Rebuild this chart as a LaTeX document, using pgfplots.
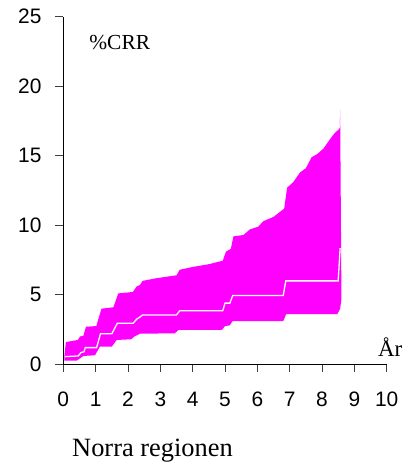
\documentclass[border=0pt]{standalone}
\usepackage{fontspec}
\setmainfont{Liberation Serif}
\setsansfont{Liberation Sans}
\usepackage{pgfplots}
\pgfplotsset{compat=1.18}
\definecolor{bandmag}{RGB}{255,0,255}
\begin{document}
\begin{tikzpicture}[x=1bp,y=1bp]
\path[use as bounding box] (-63.3bp,-100.7bp) rectangle (350.7bp,364.3bp);
\begin{axis}[
  at={(0,0)}, anchor=south west,
  scale only axis, width=323.4bp, height=347.6bp,
  xmin=0, xmax=10, ymin=0, ymax=25,
  axis x line=bottom, axis y line=left,
  axis line style={-, line width=0.8bp, black},
  xtick={0,1,...,10}, ytick={0,5,10,15,20,25},
  tick align=outside, major tick length=8bp,
  tick style={line width=0.8bp, black!75},
  /pgf/number format/assume math mode=true,
  tick label style={font=\fontsize{21}{21}\sffamily},
  xticklabel style={anchor=north, inner sep=0pt, yshift=-19.4bp},
  yticklabel style={anchor=east, inner sep=0pt, xshift=-13.6bp},
  clip=false,
]
\addplot[fill=bandmag, draw=none] coordinates {
(0.03,0.5) (0.08,1.6) (0.45,1.75) (0.52,2.0) (0.62,2.05) (0.7,2.7) (1.02,2.75)
(1.18,4.0) (1.55,4.1) (1.7,5.1) (2.15,5.2) (2.27,5.6) (2.37,5.7) (2.45,6.0)
(2.9,6.2) (3.2,6.3) (3.5,6.4) (3.6,6.8) (4.0,7.0) (4.5,7.2) (4.93,7.45)
(5.03,8.1) (5.18,8.3) (5.26,9.2) (5.57,9.3) (5.77,9.7) (6.03,9.9) (6.19,10.3)
(6.5,10.6) (6.83,11.2) (6.92,12.7) (7.11,13.1) (7.32,13.8) (7.5,14.1)
(7.68,14.9) (7.84,15.1) (8.04,15.5) (8.25,16.2) (8.38,16.6) (8.52,16.9)
(8.55,17.0) (8.56,18.3) (8.59,8.5) (8.6,4.7)
(8.56,4.0) (8.47,3.6) (6.89,3.6) (6.8,3.1) (5.23,3.1) (5.15,2.8) (5.0,2.75)
(4.9,2.47) (3.56,2.47) (3.45,2.23) (2.37,2.2) (2.2,2.0) (2.1,1.8) (1.65,1.75)
(1.5,1.27) (1.13,1.27) (0.98,0.65) (0.62,0.6) (0.52,0.43) (0.41,0.26) (0.03,0.26)
} -- cycle;
\addplot[white, line width=1.3bp] coordinates {
(0.05,0.55) (0.46,0.6) (0.55,0.85) (0.64,0.9) (0.68,1.2) (1.03,1.2) (1.15,2.2)
(1.5,2.2) (1.67,2.95) (2.16,2.95) (2.27,3.25) (2.37,3.4) (2.45,3.55) (3.5,3.55)
(3.6,3.85) (4.93,3.85) (5.0,4.4) (5.15,4.4) (5.24,4.95) (6.8,4.95) (6.88,6.0)
(8.5,6.0) (8.56,8.35)
};
\node[anchor=base west, inner sep=0pt, font=\fontsize{21.5}{21.5}\selectfont] at (axis cs:0.80,22.66) {\%CRR};
\node[anchor=base west, inner sep=0pt, font=\fontsize{23}{23}\selectfont] at (axis cs:9.73,0.55) {År};
\node[anchor=base west, inner sep=0pt, font=\fontsize{26.5}{26.5}\selectfont] at (axis cs:0.27,-6.65) {Norra regionen};
\end{axis}
\end{tikzpicture}
\end{document}
